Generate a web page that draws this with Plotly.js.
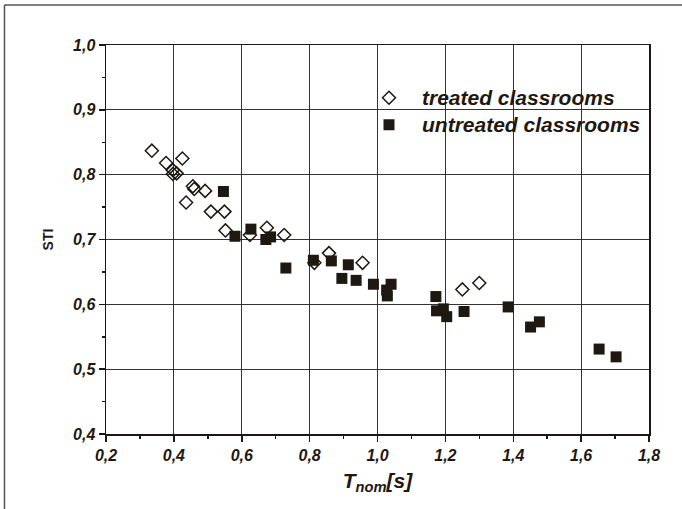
<!DOCTYPE html>
<html>
<head>
<meta charset="utf-8">
<script src="https://cdn.plot.ly/plotly-3.0.1.min.js"></script>
<style>html,body{margin:0;padding:0;background:#fff;}#chart{width:682px;height:509px;}</style>
</head>
<body>
<div id="chart"></div>
<script>
// treated classrooms (open diamonds)
const treatedT = [0.335, 0.377, 0.397, 0.408, 0.397, 0.425, 0.456, 0.460, 0.492, 0.436, 0.509, 0.549, 0.552, 0.624, 0.674, 0.725, 0.814, 0.857, 0.956, 1.250, 1.300];
const treatedSTI = [0.837, 0.818, 0.807, 0.802, 0.801, 0.825, 0.782, 0.778, 0.775, 0.757, 0.743, 0.743, 0.714, 0.707, 0.718, 0.707, 0.664, 0.679, 0.664, 0.623, 0.633];
// untreated classrooms (filled squares)
const untreatedT = [0.546, 0.580, 0.627, 0.671, 0.685, 0.730, 0.811, 0.864, 0.914, 0.895, 0.937, 0.988, 1.040, 1.027, 1.029, 1.172, 1.174, 1.194, 1.204, 1.255, 1.385, 1.451, 1.477, 1.653, 1.703];
const untreatedSTI = [0.774, 0.705, 0.716, 0.700, 0.704, 0.656, 0.668, 0.667, 0.661, 0.640, 0.637, 0.631, 0.631, 0.622, 0.613, 0.612, 0.590, 0.593, 0.581, 0.589, 0.596, 0.565, 0.573, 0.531, 0.519];
const seriesNames = ['treated classrooms', 'untreated classrooms'];
const xTickVals = [0.2, 0.4, 0.6, 0.8, 1.0, 1.2, 1.4, 1.6, 1.8];
const xTickText = ['0,2', '0,4', '0,6', '0,8', '1,0', '1,2', '1,4', '1,6', '1,8'];
const yTickVals = [0.4, 0.5, 0.6, 0.7, 0.8, 0.9, 1.0];
const yTickText = ['0,4', '0,5', '0,6', '0,7', '0,8', '0,9', '1,0'];
const xTitle = 'T<sub>nom</sub>[s]';
const yTitle = 'STI';

const ink = '#1e1810';
const fontFam = '"Liberation Sans", Arial, sans-serif';
const bi = s => '<b><i>' + s + '</i></b>';
const legName = s => '<span style="font-size:21px"><b><i>' + s + '</i></b></span>';

const traces = [
  {x: treatedT, y: treatedSTI, name: legName(seriesNames[0]), type: 'scatter', mode: 'markers',
   marker: {symbol: 'diamond-open', size: 10, color: ink, line: {width: 1.5, color: ink}}},
  {x: untreatedT, y: untreatedSTI, name: legName(seriesNames[1]), type: 'scatter', mode: 'markers',
   marker: {symbol: 'square', size: 11, color: ink, line: {width: 0}}}
];

const axisCommon = {
  showline: true, linecolor: ink, linewidth: 1.5, mirror: true,
  showgrid: true, gridcolor: '#333', gridwidth: 1,
  zeroline: false, ticks: 'outside', ticklen: 6, tickwidth: 1.5, tickcolor: ink,
  tickfont: {family: fontFam, size: 16, color: ink},
  tickmode: 'array'
};

const layout = {
  width: 682, height: 509,
  margin: {l: 106, r: 33, t: 45, b: 75},
  paper_bgcolor: '#fff', plot_bgcolor: '#fff',
  showlegend: true,
  legend: {x: 0.4604, y: 0.912, xanchor: 'left', yanchor: 'top', bgcolor: 'rgba(0,0,0,0)',
    itemwidth: 56,
    font: {family: fontFam, size: 18.5, color: ink},
    tracegroupgap: 0},
  xaxis: Object.assign({}, axisCommon, {
    range: [0.2, 1.8], tickvals: xTickVals, ticktext: xTickText.map(bi),
    minor: {dtick: 0.1, tick0: 0.2, ticks: 'outside', ticklen: 3, tickwidth: 1.5, tickcolor: ink, showgrid: false},
    title: {text: bi(xTitle), standoff: 10, font: {family: fontFam, size: 21, color: ink}}
  }),
  yaxis: Object.assign({}, axisCommon, {
    range: [0.4, 1.0], tickvals: yTickVals, ticktext: yTickText.map(bi),
    minor: {dtick: 0.05, tick0: 0.4, ticks: 'outside', ticklen: 3, tickwidth: 1.5, tickcolor: ink, showgrid: false},
    title: {text: '<b>' + yTitle + '</b>', standoff: 16, font: {family: fontFam, size: 14, color: ink}}
  }),
  shapes: [
    {type: 'rect', xref: 'paper', yref: 'paper', x0: 0.4217, x1: 0.9705, y0: 0.748, y1: 0.9075,
     fillcolor: '#fff', line: {width: 0}, layer: 'between'},
    {type: 'line', xref: 'paper', yref: 'paper', x0: -0.187, x1: 1.1, y0: 1.1028, y1: 1.1028,
     line: {color: '#555', width: 1.5}},
    {type: 'line', xref: 'paper', yref: 'paper', x0: -0.187, x1: -0.187, y0: 1.1028, y1: -0.2,
     line: {color: '#555', width: 1.5}}
  ]
};

Plotly.newPlot('chart', traces, layout, {displayModeBar: false, staticPlot: true});
</script>
</body>
</html>
